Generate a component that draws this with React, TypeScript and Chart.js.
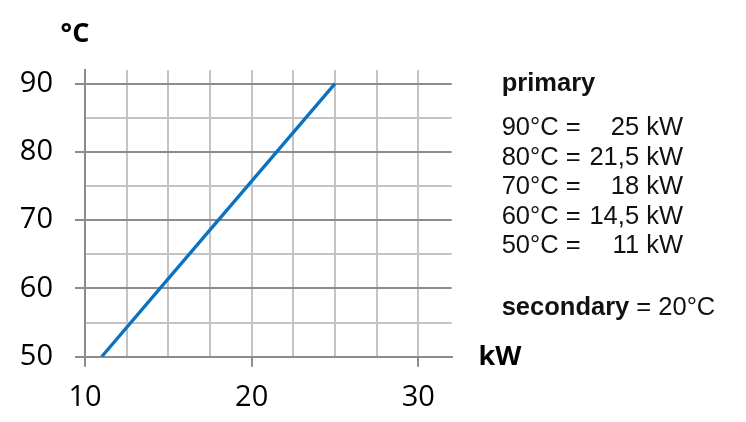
import React, { useEffect, useRef } from 'react';
import { Chart, registerables } from 'chart.js';

Chart.register(...registerables);

// Data
const kwValues = [11, 14.5, 18, 21.5, 25];
const tempValues = [50, 60, 70, 80, 90];
const xTickLabels = [10, 20, 30];
const yTickLabels = [50, 60, 70, 80, 90];
const secondaryTemp = 20;
const xUnit = 'kW';
const yUnit = '°C';

const DARK = '#8c8c8c';
const LIGHT = '#c3c3c3';
const BLUE = '#0b72c1';
const TICK_FONT = "'Open Sans', 'Noto Sans', sans-serif";
const TEXT_FONT = "'Liberation Sans', Arial, sans-serif";

const fmt = (v: number) => String(v).replace('.', ',');

export default function App() {
  const ref = useRef<HTMLCanvasElement | null>(null);

  useEffect(() => {
    if (!ref.current) return;
    const chart = new Chart(ref.current, {
      type: 'scatter',
      data: {
        datasets: [
          {
            data: kwValues.map((x, i) => ({ x, y: tempValues[i] })),
            showLine: true,
            borderColor: BLUE,
            backgroundColor: BLUE,
            borderWidth: 3.3,
            pointRadius: 0,
            fill: false,
          },
        ],
      },
      options: {
        responsive: false,
        maintainAspectRatio: false,
        animation: false,
        layout: { padding: { left: 0, top: 62, right: 286.3, bottom: 0 } },
        plugins: { legend: { display: false }, tooltip: { enabled: false } },
        scales: {
          x: {
            type: 'linear',
            min: 10,
            max: 32,
            afterFit: (s: any) => {
              s.height = 57.3;
            },
            ticks: {
              stepSize: 2.5,
              includeBounds: false,
              autoSkip: false,
              maxRotation: 0,
              minRotation: 0,
              padding: 14,
              color: '#000',
              font: { size: 29, family: TICK_FONT },
              callback: (v: any) => (xTickLabels.includes(Number(v)) ? String(v) : ''),
            },
            grid: {
              lineWidth: 2,
              tickLength: 10,
              color: (ctx: any) => (ctx.tick && ctx.tick.value === 10 ? DARK : LIGHT),
              tickColor: (ctx: any) =>
                ctx.tick && xTickLabels.includes(ctx.tick.value) ? DARK : 'rgba(0,0,0,0)',
            },
            border: { color: DARK, width: 2 },
          },
          y: {
            type: 'linear',
            min: 50,
            max: 92,
            afterFit: (s: any) => {
              s.width = 77;
            },
            ticks: {
              stepSize: 5,
              includeBounds: false,
              autoSkip: false,
              padding: 22,
              color: '#000',
              font: { size: 29, family: TICK_FONT },
              callback: (v: any) => (yTickLabels.includes(Number(v)) ? String(v) : ''),
            },
            grid: {
              lineWidth: 2,
              tickLength: 10,
              color: (ctx: any) =>
                ctx.tick && yTickLabels.includes(ctx.tick.value) ? DARK : LIGHT,
              tickColor: (ctx: any) =>
                ctx.tick && yTickLabels.includes(ctx.tick.value) ? DARK : 'rgba(0,0,0,0)',
            },
            border: { color: DARK, width: 2 },
          },
        },
      },
    } as any);
    return () => chart.destroy();
  }, []);

  const rows = tempValues
    .map((t, i) => ({ t, kw: kwValues[i] }))
    .reverse();

  return (
    <div style={{ position: 'relative', width: 730, height: 406 }}>
      <canvas ref={ref} width={730} height={406} style={{ width: 730, height: 406, display: 'block' }} />
      <div
        style={{
          position: 'absolute',
          left: 42,
          top: 6,
          width: 50,
          textAlign: 'center',
          fontFamily: TICK_FONT,
          fontWeight: 700,
          fontSize: 27,
          lineHeight: '36px',
          color: '#000',
        }}
      >
        {yUnit}
      </div>
      <div
        style={{
          position: 'absolute',
          left: 462,
          top: 329,
          width: 60,
          textAlign: 'center',
          fontFamily: TICK_FONT,
          fontWeight: 700,
          fontSize: 27,
          lineHeight: '36px',
          color: '#000',
        }}
      >
        {xUnit}
      </div>
      <div
        style={{
          position: 'absolute',
          left: 493.7,
          top: 59.6,
          fontFamily: TEXT_FONT,
          fontWeight: 700,
          fontSize: 25.5,
          lineHeight: '29.6px',
          color: '#111',
          whiteSpace: 'nowrap',
        }}
      >
        primary
      </div>
      {rows.map((r, i) => (
        <div
          key={r.t}
          style={{
            position: 'absolute',
            left: 493.7,
            top: 103.9 + i * 29.6,
            width: 181.3,
            display: 'flex',
            justifyContent: 'space-between',
            fontFamily: TEXT_FONT,
            fontSize: 25.5,
            lineHeight: '29.6px',
            color: '#111',
            whiteSpace: 'nowrap',
          }}
        >
          <span>{`${r.t}°C =`}</span>
          <span>{`${fmt(r.kw)} kW`}</span>
        </div>
      ))}
      <div
        style={{
          position: 'absolute',
          left: 493.7,
          top: 283.9,
          fontFamily: TEXT_FONT,
          fontSize: 25.5,
          lineHeight: '29.6px',
          color: '#111',
          whiteSpace: 'nowrap',
        }}
      >
        <span style={{ fontWeight: 700 }}>secondary</span>
        {` = ${secondaryTemp}°C`}
      </div>
    </div>
  );
}
